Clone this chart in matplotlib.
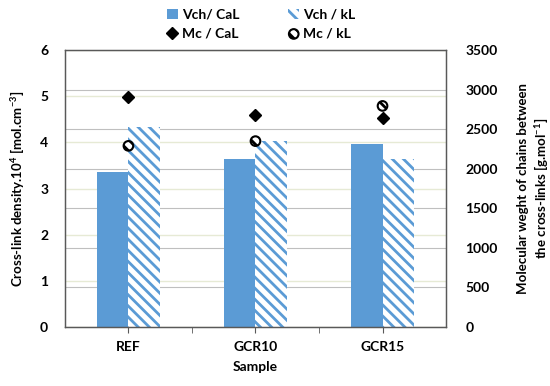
import numpy as np
import matplotlib
matplotlib.use('Agg')
import matplotlib.pyplot as plt
from matplotlib.ticker import FixedLocator, MultipleLocator

plt.rcParams['font.family'] = ['Lato', 'DejaVu Sans']
plt.rcParams['font.weight'] = 'bold'
plt.rcParams['axes.labelweight'] = 'bold'
plt.rcParams['mathtext.fontset'] = 'custom'
plt.rcParams['mathtext.rm'] = 'Lato:bold'
plt.rcParams['mathtext.default'] = 'rm'
plt.rcParams['hatch.linewidth'] = 2.0

# Data
samples = ['REF', 'GCR10', 'GCR15']
vch_cal = [3.35, 3.64, 3.97]
vch_kl = [4.33, 4.03, 3.64]
mc_cal = [2910, 2680, 2645]
mc_kl = [2290, 2350, 2795]

blue = '#5B9BD5'
fig = plt.figure(figsize=(5.5, 3.86), dpi=100)
ax = fig.add_axes([0.118, 0.153, 0.693, 0.717])
ax2 = ax.twinx()

x = np.arange(len(samples))
w = 0.245
ax.bar(x - w/2, vch_cal, w, color=blue, label='Vch/ CaL', zorder=2)
ax.bar(x + w/2, vch_kl, w, facecolor='white', edgecolor=blue, linewidth=0,
       hatch='\\\\\\', label='Vch / kL', zorder=2)

ax2.plot(x, mc_cal, 'D', color='black', markersize=6.5, label='Mc / CaL')
ax2.scatter(x, mc_kl, s=48, facecolor='white', edgecolor='black', linewidth=1.5,
            hatch='\\\\\\', label='Mc / kL', zorder=3)

ax.set_xlim(-0.5, 2.5)
ax.set_ylim(0, 6)
ax2.set_ylim(0, 3500)
ax.yaxis.set_major_locator(MultipleLocator(1))
ax2.yaxis.set_major_locator(MultipleLocator(500))

# gridlines: left axis (faint) and right axis (gray)
ax.yaxis.set_minor_locator(FixedLocator(np.arange(500, 3500, 500) * 6 / 3500))
ax.grid(axis='y', which='major', color='#e6ead5', linewidth=1.0, zorder=0)
ax.grid(axis='y', which='minor', color='#bfbfbf', linewidth=0.8, zorder=0)
ax.set_axisbelow(True)

ax.set_xticks(x)
ax.set_xticklabels(samples)
ax.xaxis.set_minor_locator(FixedLocator([0.5, 1.5]))
ax.tick_params(axis='x', which='both', direction='out', length=4, color='#595959',
               labelsize=10, pad=6)
ax.tick_params(axis='y', which='both', length=0, labelsize=10, pad=12)
ax2.tick_params(axis='y', length=0, labelsize=10, pad=14)

for a in (ax, ax2):
    for s in a.spines.values():
        s.set_color('#595959')
        s.set_linewidth(0.9)

ax.set_xlabel('Sample', fontsize=10, labelpad=6)
ax.set_ylabel(r'Cross-link density.10$^{4}$ [mol.cm$^{-3}$]', fontsize=9.5, labelpad=10)
ax2.set_ylabel('Molecular weght of chains between\nthe cross-links [g.mol$^{-1}$]',
               fontsize=9.5, labelpad=14)

h1, l1 = ax.get_legend_handles_labels()
h2, l2 = ax2.get_legend_handles_labels()
handles = [h1[0], h2[0], h1[1], h2[1]]
labels = [l1[0], l2[0], l1[1], l2[1]]
fig.legend(handles, labels, ncol=2, loc='upper center', bbox_to_anchor=(0.475, 1.01),
           frameon=False, fontsize=10, handlelength=0.8, handletextpad=0.3,
           columnspacing=3.5, labelspacing=0.5)

fig.savefig('out.png', dpi=100)
